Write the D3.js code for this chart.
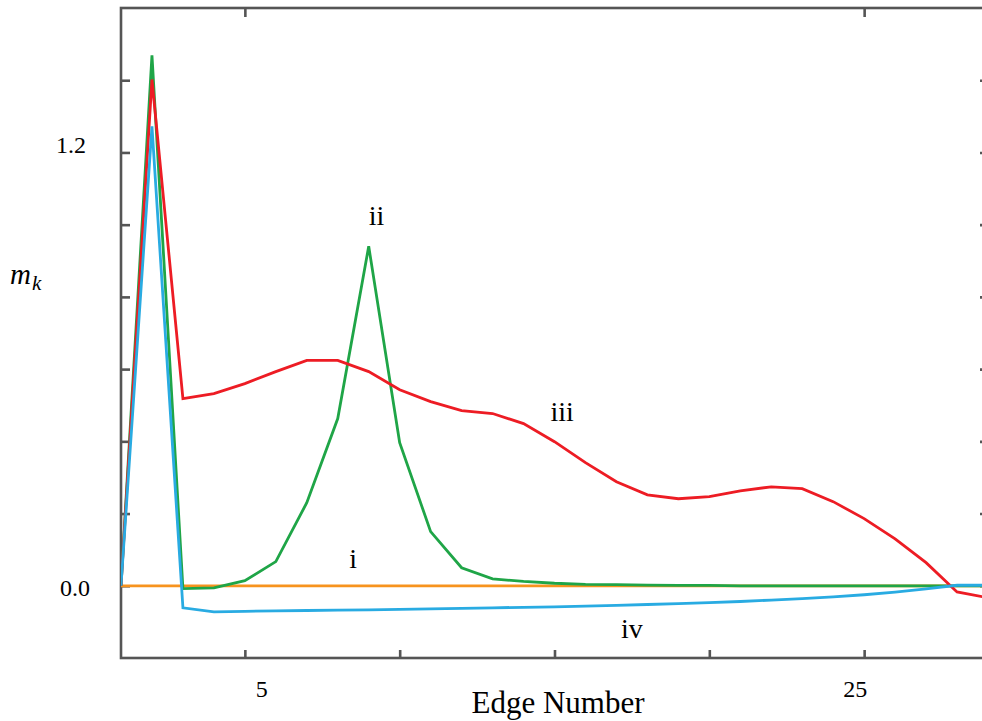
<!DOCTYPE html>
<html>
<head>
<meta charset="utf-8">
<script src="https://cdn.jsdelivr.net/npm/d3@7"></script>
<style>
  html, body { margin: 0; padding: 0; background: #fff; }
  svg { display: block; }
  text { font-family: "Liberation Serif", "DejaVu Serif", serif; fill: #000; }
</style>
</head>
<body>
<svg id="chart" width="982" height="721"></svg>
<script>
// ---- data ----
const edges = d3.range(1, 30); // edge numbers 1..29
const seriesI   = edges.map(() => 0);
const seriesII  = [0, 1.469, -0.008, -0.006, 0.014, 0.067, 0.230, 0.463, 0.940, 0.396, 0.150, 0.050, 0.019, 0.012, 0.007, 0.004, 0.003, 0.002, 0.001, 0.001, 0, 0, 0, 0, 0, 0, 0, 0, 0];
const seriesIII = [0, 1.402, 0.518, 0.532, 0.560, 0.593, 0.624, 0.624, 0.593, 0.543, 0.510, 0.485, 0.477, 0.449, 0.399, 0.341, 0.288, 0.252, 0.241, 0.247, 0.263, 0.274, 0.269, 0.233, 0.186, 0.130, 0.064, -0.017, -0.033];
const seriesIV  = [0, 1.272, -0.061, -0.072, -0.0707, -0.0693, -0.0685, -0.0673, -0.0665, -0.0651, -0.0637, -0.0624, -0.061, -0.0596, -0.0582, -0.0563, -0.054, -0.0518, -0.0493, -0.0466, -0.0435, -0.0396, -0.0355, -0.0305, -0.0249, -0.0175, -0.0083, 0.0014, 0.0014];
const xTicks = [5, 10, 15, 20, 25];
const xTickLabels = [{v: 5, t: "5"}, {v: 25, t: "25"}];
const yTicks = [0, 0.2, 0.4, 0.6, 0.8, 1.0, 1.2, 1.4];
const yTickLabels = [{v: 0, t: "0.0"}, {v: 1.2, t: "1.2"}];
const topTicks = [5, 25];
const annotations = [
  {t: "i",   x: 8.5,  y: 0.05},
  {t: "ii",  x: 9.25, y: 1.0},
  {t: "iii", x: 15.25, y: 0.455},
  {t: "iv",  x: 17.5, y: -0.145}
];

// ---- layout ----
const svg = d3.select("#chart");
const pL = 121, pR = 988, pT = 8, pB = 658;
const x = d3.scaleLinear().domain([1, 29]).range([pL, pR]);
const y = d3.scaleLinear().domain([-0.2, 1.6]).range([pB, pT]);
const axisColor = "#555";

// frame
const g = svg.append("g");
g.append("rect").attr("x", pL).attr("y", pT).attr("width", pR - pL).attr("height", pB - pT)
  .attr("fill", "none").attr("stroke", axisColor).attr("stroke-width", 2.6);

// bottom ticks (inward)
const bAxis = g.append("g").attr("transform", `translate(0,${pB})`)
  .call(d3.axisTop(x).tickValues(xTicks).tickSize(8).tickFormat(""));
// top ticks (inward)
const tAxis = g.append("g").attr("transform", `translate(0,${pT})`)
  .call(d3.axisBottom(x).tickValues(topTicks).tickSize(9).tickFormat(""));
// left ticks (inward)
const lAxis = g.append("g").attr("transform", `translate(${pL},0)`)
  .call(d3.axisRight(y).tickValues(yTicks).tickSize(9).tickFormat(""));
// right ticks (inward)
const rAxis = g.append("g").attr("transform", `translate(${pR},0)`)
  .call(d3.axisLeft(y).tickValues(yTicks).tickSize(8).tickFormat(""));
[bAxis, tAxis, lAxis, rAxis].forEach(a => {
  a.select(".domain").remove();
  a.selectAll(".tick line").attr("stroke", axisColor).attr("stroke-width", 2.6);
});

// tick labels
g.selectAll(".xlab").data(xTickLabels).enter().append("text")
  .attr("x", d => x(d.v) + (d.v === 5 ? 17 : -9))
  .attr("y", pB + 39)
  .attr("text-anchor", "middle").attr("font-size", 24)
  .text(d => d.t);
g.selectAll(".ylab").data(yTickLabels).enter().append("text")
  .attr("x", d => d.v === 0 ? 75 : 71)
  .attr("y", d => y(d.v) + (d.v === 0 ? 10 : 1))
  .attr("text-anchor", "middle").attr("font-size", 24)
  .text(d => d.t);

// axis titles
g.append("text").attr("x", 558).attr("y", 713).attr("text-anchor", "middle")
  .attr("font-size", 31).text("Edge Number");
const yt = g.append("text").attr("x", 10).attr("y", 284).attr("font-size", 29).attr("font-style", "italic");
yt.append("tspan").text("m");
yt.append("tspan").attr("font-size", 21).attr("dy", 6).attr("dx", 1).text("k");

// lines
svg.append("clipPath").attr("id", "clip").append("rect")
  .attr("x", pL).attr("y", pT).attr("width", pR - pL).attr("height", pB - pT);
const line = d3.line().x((d, i) => x(edges[i])).y(d => y(d));
const series = [
  {vals: seriesI,   color: "#f7931e"},
  {vals: seriesII,  color: "#1fa547"},
  {vals: seriesIII, color: "#ed1c24"},
  {vals: seriesIV,  color: "#29abe2"}
];
const lg = svg.append("g").attr("clip-path", "url(#clip)");
series.forEach(s => {
  lg.append("path").datum(s.vals).attr("d", line)
    .attr("fill", "none").attr("stroke", s.color).attr("stroke-width", 2.8)
    .attr("stroke-linejoin", "miter");
});

// annotations
g.selectAll(".ann").data(annotations).enter().append("text")
  .attr("x", d => x(d.x)).attr("y", d => y(d.y))
  .attr("text-anchor", "middle").attr("font-size", 28)
  .text(d => d.t);
</script>
</body>
</html>
